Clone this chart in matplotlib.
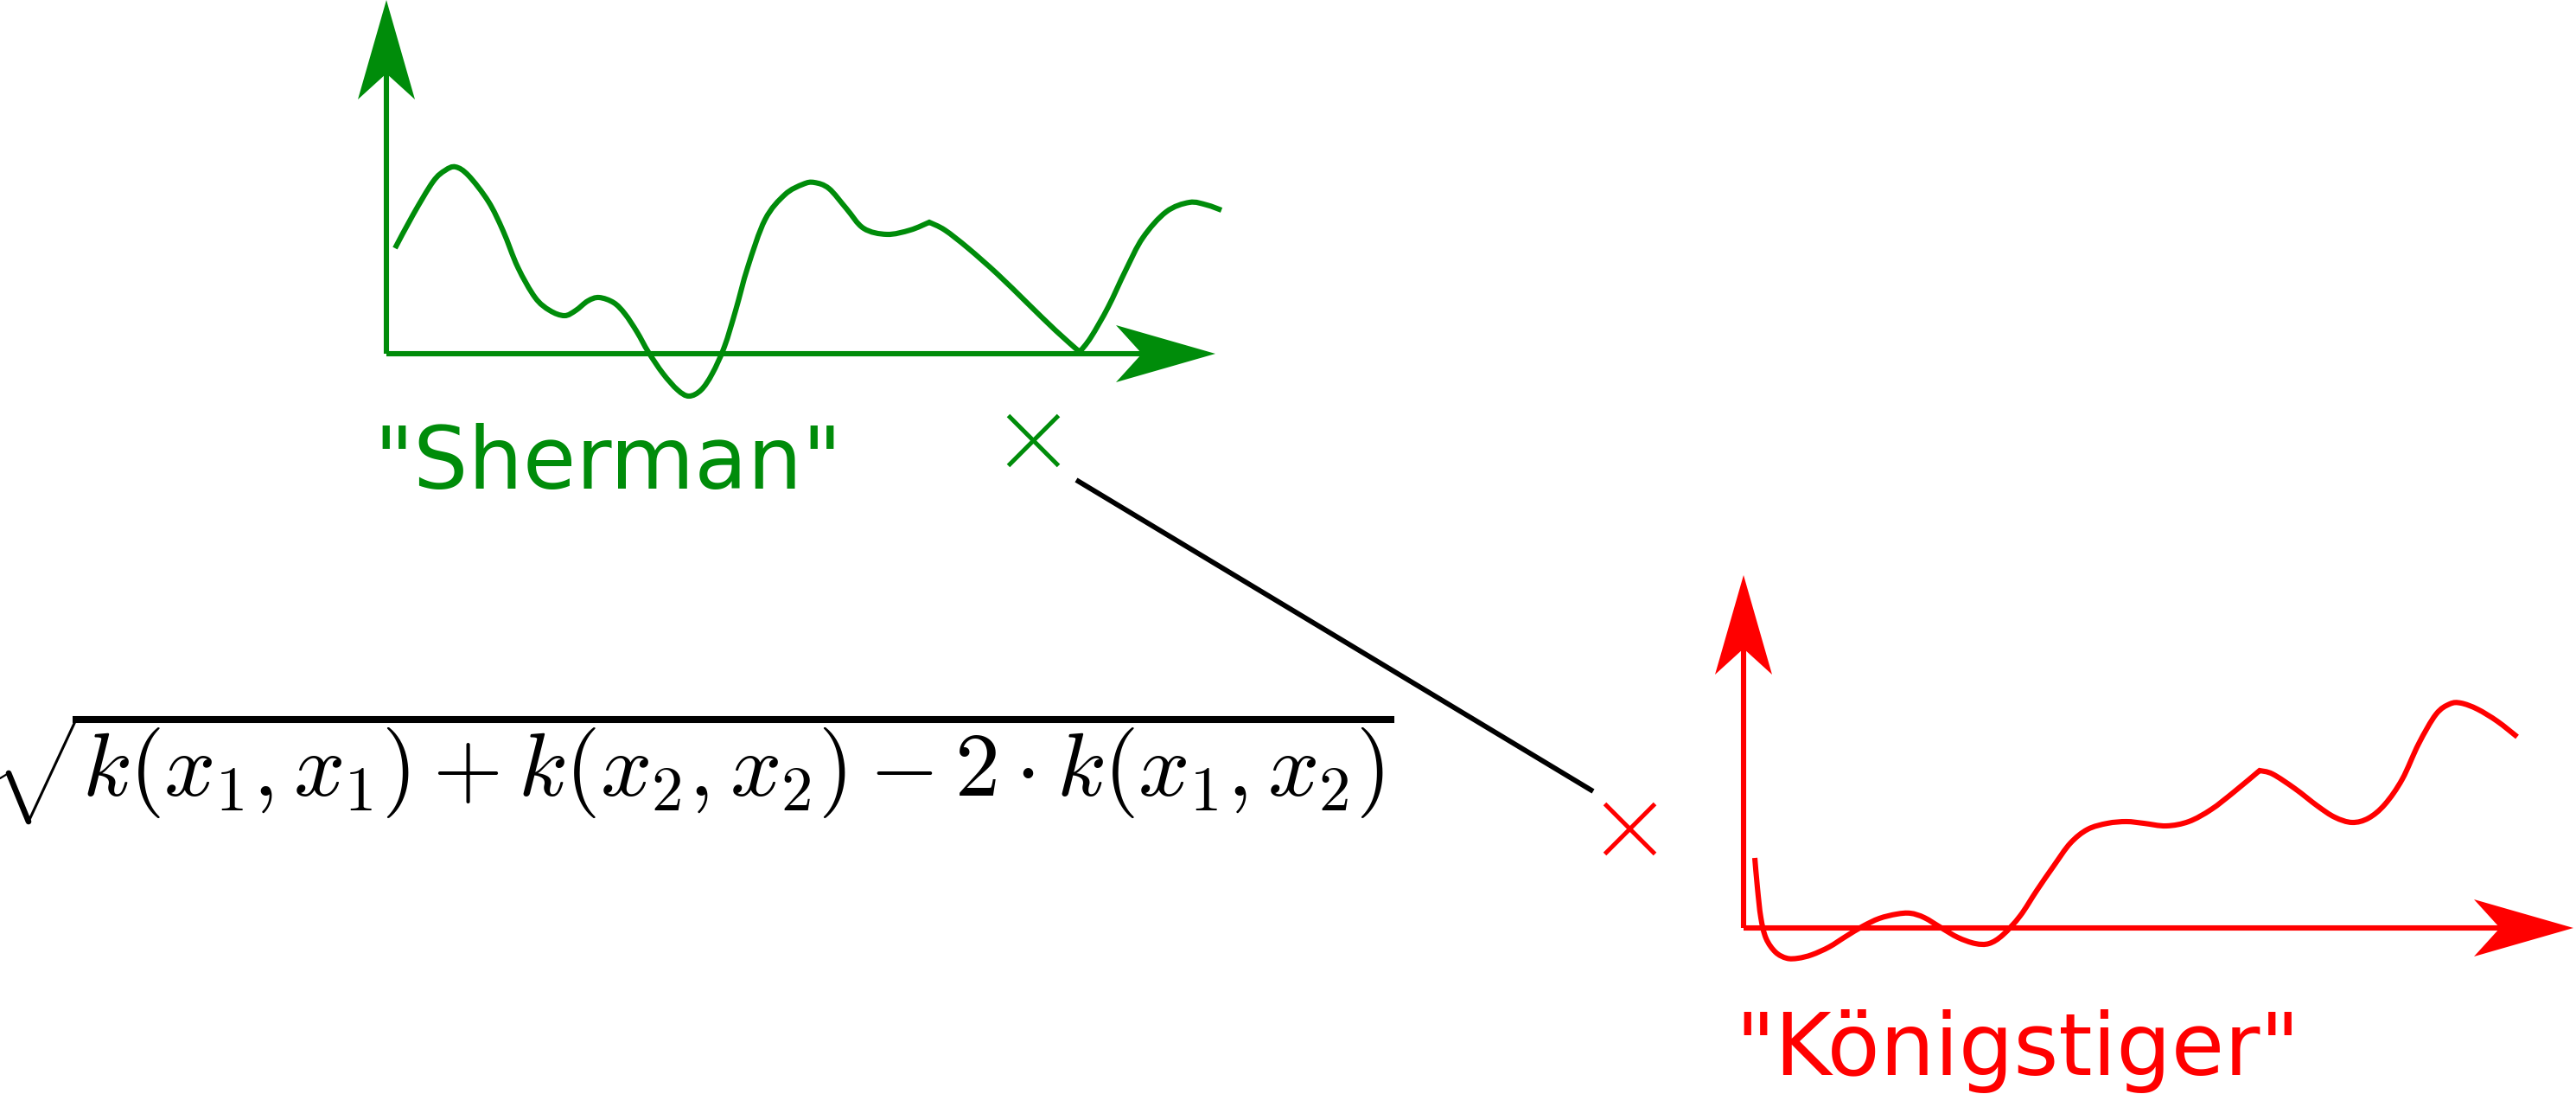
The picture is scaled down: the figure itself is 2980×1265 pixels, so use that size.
import numpy as np
import matplotlib.pyplot as plt
from matplotlib.patches import Polygon, PathPatch
from matplotlib.path import Path

# Farben
GREEN = '#008c0a'
RED = '#ff0000'

# Kurve "Sherman" (Pixelkoordinaten des Bildes)
sherman_x = [457, 478, 501, 515, 527, 542, 565, 582, 599, 619, 636, 653, 666, 680,
             693, 710, 723, 737, 750, 767, 784, 797, 811, 824, 838, 851, 865, 885,
             908, 929, 942, 959, 979, 999, 1026, 1053, 1075, 1093, 1120, 1154, 1188,
             1221, 1249, 1262, 1282, 1302, 1322, 1349, 1376, 1396, 1413]
sherman_y = [287, 248, 210, 197, 193, 203, 233, 267, 309, 344, 359, 365, 359, 348,
             344, 350, 363, 384, 407, 432, 451, 458, 451, 432, 401, 359, 309, 254,
             225, 213, 211, 218, 241, 264, 271, 266, 257, 266, 287, 317, 350,
             382, 407, 390, 355, 313, 275, 245, 234, 237, 243]
sherman_cusps = [36, 42]

# Kurve "Königstiger"
koenig_x = [2030, 2033, 2037, 2043, 2054, 2067, 2080, 2096, 2116, 2135, 2155, 2174,
            2194, 2210, 2226, 2246, 2265, 2285, 2301, 2317, 2337, 2356, 2376, 2395,
            2415, 2438, 2460, 2480, 2506, 2532, 2558, 2584, 2614, 2629, 2655, 2681,
            2701, 2721, 2740, 2759, 2779, 2798, 2818, 2834, 2847, 2866, 2889, 2912]
koenig_y = [992, 1026, 1061, 1085, 1101, 1108, 1108, 1104, 1095, 1083, 1071, 1062,
            1057, 1056, 1061, 1073, 1084, 1091, 1091, 1081, 1059, 1030, 1001, 975,
            959, 952, 950, 952, 955, 950, 936, 916, 891, 895, 912, 932,
            945, 951, 946, 930, 901, 860, 826, 814, 813, 820, 834, 852]
koenig_cusps = [32]

# Achsen der beiden Mini-Diagramme: Ursprung, Spitze y, Spitze x
sherman_axes = (447, 409), (447, 0), (1406, 409)
koenig_axes = (2017, 1073), (2017, 665), (2977, 1073)

# Kreuze und Verbindungslinie
cross_x = [1195, 1885]
cross_y = [509, 958]
cross_colors = [GREEN, RED]
link_x = [1245, 1843]
link_y = [555, 915]

# Wurzelzeichen: Haken, Abstrich, Aufstrich, Querbalken
root_x = [0, 10, 33, 88, 1609]
root_y = [900, 894, 950, 832, 832]
root_lw = [1.6, 4.8, 2.2, 5.8]

formula_body = r'$k(x_1,x_1)+k(x_2,x_2)-2\cdot k(x_1,x_2)$'

HEAD_LEN = 115
HEAD_HALF = 33
HEAD_INNER = 85
LW = 4.4


def stealth_arrow(ax, start, tip, color, lw):
    start = np.array(start, dtype=float)
    tip = np.array(tip, dtype=float)
    d = (tip - start) / np.linalg.norm(tip - start)
    n = np.array([-d[1], d[0]])
    base = tip - HEAD_LEN * d
    notch = tip - HEAD_INNER * d
    ax.plot([start[0], notch[0]], [start[1], notch[1]], color=color, lw=lw,
            solid_capstyle='butt')
    pts = [tip, base + HEAD_HALF * n, notch, base - HEAD_HALF * n]
    ax.add_patch(Polygon(pts, closed=True, facecolor=color, edgecolor='none'))


def smooth_path(xs, ys, cusps):
    # Catmull-Rom als Bezier-Pfad, Knicke an den cusps bleiben spitz
    p = np.column_stack([xs, ys]).astype(float)
    breaks = set(cusps)
    verts = [p[0]]
    codes = [Path.MOVETO]
    for i in range(len(p) - 1):
        p0 = p[i - 1] if (i > 0 and i not in breaks) else p[i]
        p3 = p[i + 2] if (i + 2 < len(p) and (i + 1) not in breaks) else p[i + 1]
        c1 = p[i] + (p[i + 1] - p0) / 6
        c2 = p[i + 1] - (p3 - p[i]) / 6
        verts += [c1, c2, p[i + 1]]
        codes += [Path.CURVE4] * 3
    return Path(verts, codes)


fig = plt.figure(figsize=(29.8, 12.65), dpi=100)
ax = fig.add_axes([0, 0, 1, 1])
ax.set_xlim(0, 2980)
ax.set_ylim(1265, 0)
ax.axis('off')

for axes_def, col in [(sherman_axes, GREEN), (koenig_axes, RED)]:
    origin, ytip, xtip = axes_def
    stealth_arrow(ax, origin, ytip, col, LW)
    stealth_arrow(ax, origin, xtip, col, LW)

for xs, ys, cusps, col in [(sherman_x, sherman_y, sherman_cusps, GREEN),
                           (koenig_x, koenig_y, koenig_cusps, RED)]:
    ax.add_patch(PathPatch(smooth_path(xs, ys, cusps), facecolor='none',
                           edgecolor=col, lw=LW, capstyle='butt'))

ax.plot(link_x, link_y, color='black', lw=4.2, solid_capstyle='butt')
for cx, cy, c in zip(cross_x, cross_y, cross_colors):
    ax.plot(cx, cy, marker='x', markersize=42, mew=3.6, color=c)

ax.text(432, 565, '"Sherman"', color=GREEN, fontsize=72, family='DejaVu Sans',
        ha='left', va='baseline')
ax.text(2007, 1243, '"Königstiger"', color=RED, fontsize=72, family='DejaVu Sans',
        ha='left', va='baseline')

# Formel mit Wurzel
plt.rcParams['mathtext.fontset'] = 'cm'
for i, w in enumerate(root_lw):
    ax.plot(root_x[i:i + 2], root_y[i:i + 2], color='black', lw=w,
            solid_capstyle='projecting' if i == 3 else 'round')
ax.text(95, 920, formula_body, color='black', fontsize=75, ha='left',
        va='baseline')

fig.savefig('out.png', dpi=100)
